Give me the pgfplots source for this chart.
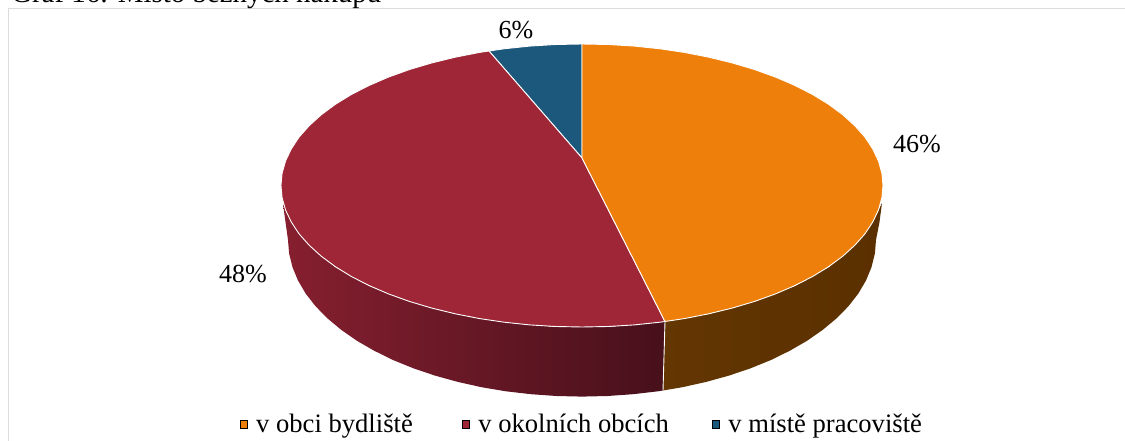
\documentclass[border=0pt]{standalone}
\usepackage{pgfplots}
\pgfplotsset{compat=1.18}
\usepackage{fontspec}
\setmainfont{Liberation Serif}
\definecolor{cOrange}{HTML}{EE7F0A}
\definecolor{cRed}{HTML}{9E2636}
\definecolor{cBlue}{HTML}{1B587C}
\definecolor{cFrame}{HTML}{DCDCDC}
\definecolor{cRedA}{HTML}{861F2F}
\definecolor{cRedB}{HTML}{47101B}
\definecolor{cOrA}{HTML}{633602}
\definecolor{cOrB}{HTML}{5B3000}
\begin{document}
\begin{tikzpicture}
\useasboundingbox (0,0) rectangle (1125pt,441pt);
\begin{axis}[
  at={(0,0)},anchor=south west,
  width=1125pt,height=441pt,scale only axis,
  xmin=0,xmax=1125,ymin=0,ymax=441,y dir=reverse,
  hide axis,clip=true,
  legend columns=3,
  legend style={at={(axis cs:236.5,424)},anchor=west,draw=none,fill=none,
    font=\fontsize{26.6}{28}\selectfont,
    /tikz/column 2/.style={column sep=49pt},
    /tikz/column 4/.style={column sep=43pt},
    nodes={inner sep=0pt}},
]
% frame
\addplot[forget plot,cFrame,line width=1.6pt] coordinates {(8.5,441) (8.5,8.5) (1125,8.5)};
% side of the red slice
\addplot[forget plot,draw=none,left color=cRedA,right color=cRedB] coordinates {
(665,321.5)(609,327)(555,327)(504,322)(455,314)(409,301)(369,286)(335,267)(309,245)(291,222)(283,204)
(285.5,222)(288,240)(289.1,253.6)(292.5,267.2)(298,280.5)(305.7,293.6)(315.5,306.2)(327.4,318.3)(341.2,329.8)(356.8,340.7)(374.1,350.7)(393,360)(413.4,368.3)(435,375.6)(457.8,381.9)(481.5,387.2)(505.9,391.3)(531,394.2)(556.4,396)(582,396.6)(607.6,396)(633,394.2)(658.1,391.3)(663,390.5)};
% side of the orange slice
\addplot[forget plot,draw=none,left color=cOrA,right color=cOrB] coordinates {
(665,321.5)(709,314)(755,301)(795,286)(829,267)(855,245)(873,222)(882,203)
(879.5,222)(876,240)(874.9,253.6)(871.5,267.2)(866,280.5)(858.3,293.6)(848.5,306.2)(836.6,318.3)(822.8,329.8)(807.2,340.7)(789.9,350.7)(771,360)(750.6,368.3)(729,375.6)(706.2,381.9)(682.5,387.2)(663,390.5)};
\addplot[forget plot,white,line width=0.9pt] coordinates {(665,321.5)(663,390.5)};
% top: blue
\addplot[forget plot,fill=cBlue,draw=white,line width=0.9pt] coordinates {
(582,158)(489,51)(504.1,48.8)(529.7,46.1)(555.8,44.5)(582,44)(582,158)};
% top: red
\addplot[forget plot,fill=cRed,draw=white,line width=0.9pt] coordinates {
(582,158)(665,321.5)(659.9,322.2)(634.3,324.9)(608.2,326.5)(582,327)(555.8,326.5)(529.7,324.9)(504.1,322.2)(479.1,318.5)(454.8,313.7)(431.5,308)(409.3,301.4)(388.5,293.9)(369.2,285.6)(351.4,276.5)(335.4,266.7)(321.3,256.25)(309.2,245.3)(299.1,233.9)(291.3,222.1)(285.6,210.1)(282.1,197.8)(281,185.5)(282.1,173.2)(285.6,160.9)(291.3,148.9)(299.1,137.1)(309.2,125.7)(321.3,114.75)(335.4,104.3)(351.4,94.5)(369.2,85.4)(388.5,77.1)(409.3,69.6)(431.5,63)(454.8,57.3)(479.1,52.5)(489,51)(582,158)};
% top: orange
\addplot[forget plot,fill=cOrange,draw=white,line width=0.9pt] coordinates {
(582,158)(582,44)(608.2,44.5)(634.3,46.1)(659.9,48.8)(684.9,52.5)(709.2,57.3)(732.5,63)(754.7,69.6)(775.5,77.1)(794.8,85.4)(812.6,94.5)(828.6,104.3)(842.7,114.75)(854.8,125.7)(864.9,137.1)(872.7,148.9)(878.4,160.9)(881.9,173.2)(883,185.5)(881.9,197.8)(878.4,210.1)(872.7,222.1)(864.9,233.9)(854.8,245.3)(842.7,256.25)(828.6,266.7)(812.6,276.5)(794.8,285.6)(775.5,293.9)(754.7,301.4)(732.5,308)(709.2,313.7)(684.9,318.5)(665,321.5)(582,158)};
% legend
\addlegendimage{only marks,mark=square*,mark size=3.75pt,mark options={draw=none,fill=cOrange}}
\addlegendentry{\hspace*{9pt}v obci bydliště}
\addlegendimage{only marks,mark=square*,mark size=3.75pt,mark options={draw=none,fill=cRed}}
\addlegendentry{\hspace*{9pt}v okolních obcích}
\addlegendimage{only marks,mark=square*,mark size=3.75pt,mark options={draw=none,fill=cBlue}}
\addlegendentry{\hspace*{9pt}v místě pracoviště}
% labels
\node[font=\fontsize{26}{28}\selectfont] at (axis cs:516,30) {6\%};
\node[font=\fontsize{26}{28}\selectfont] at (axis cs:917,144) {46\%};
\node[font=\fontsize{26}{28}\selectfont] at (axis cs:243,274) {48\%};
\node[font=\fontsize{28.9}{30}\selectfont,anchor=base west,inner sep=0pt] at (axis cs:11,2.5) {Graf 16: Místo běžných nákupů};
\end{axis}
\end{tikzpicture}
\end{document}
